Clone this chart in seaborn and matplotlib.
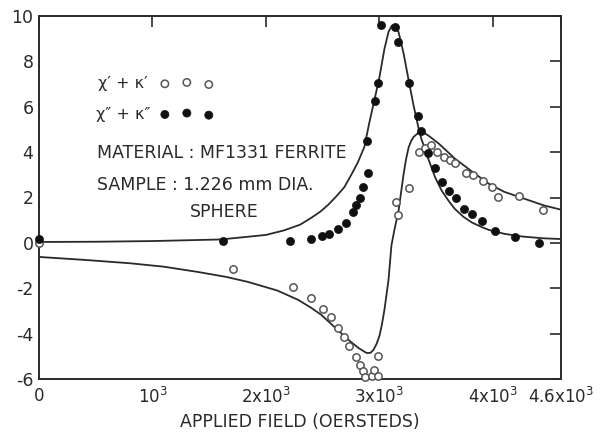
import matplotlib
matplotlib.use("Agg")
import matplotlib.pyplot as plt
from matplotlib.collections import PathCollection
import seaborn as sns
import pandas as pd

# Measured susceptibility points, MF1331 ferrite sphere
field_imag = [0, 1619, 2212, 2398, 2496, 2558, 2637, 2708, 2770, 2796, 2832, 2858,
              2894, 2903, 2965, 2991, 3018, 3133, 3168, 3257, 3336, 3363, 3425, 3487,
              3549, 3610, 3673, 3743, 3814, 3903, 4018, 4195, 4407]
chi_imag = [0.18, 0.09, 0.09, 0.18, 0.31, 0.40, 0.60, 0.88, 1.37, 1.67, 1.98, 2.47,
            4.50, 3.10, 6.26, 7.05, 9.60, 9.50, 8.85, 7.05, 5.60, 4.93, 3.96, 3.30,
            2.69, 2.29, 1.98, 1.50, 1.28, 0.97, 0.53, 0.26, 0.00]

field_real = [0, 1708, 2239, 2398, 2504, 2575, 2637, 2690, 2735, 2796, 2832, 2858,
              2876, 2938, 2956, 2991, 2991, 3142, 3168, 3257, 3345, 3398, 3451, 3505,
              3566, 3619, 3664, 3761, 3823, 3912, 3991, 4044, 4230, 4442]
chi_real = [0.00, -1.15, -1.94, -2.42, -2.90, -3.26, -3.74, -4.14, -4.54, -5.02, -5.40,
            -5.64, -5.90, -5.86, -5.60, -4.98, -5.86, 1.78, 1.23, 2.42, 4.00, 4.16, 4.30,
            4.00, 3.80, 3.66, 3.50, 3.10, 2.97, 2.73, 2.47, 2.03, 2.07, 1.45]

# Theoretical curves
curve_imag_x = [0, 500, 1000, 1600, 2000, 2159, 2300, 2398, 2480, 2549, 2620, 2690,
                2752, 2810, 2867, 2911, 2956, 3000, 3044, 3080, 3110, 3140, 3168,
                3212, 3257, 3301, 3345, 3372, 3434, 3490, 3549, 3610, 3664, 3740,
                3814, 3900, 3965, 4100, 4257, 4450, 4600]
curve_imag_y = [0.04, 0.05, 0.08, 0.15, 0.35, 0.55, 0.80, 1.10, 1.38, 1.68, 2.05, 2.45,
                3.00, 3.55, 4.23, 5.30, 6.30, 7.30, 8.55, 9.30, 9.58, 9.55, 9.30,
                8.37, 7.18, 6.05, 5.05, 4.55, 3.66, 2.90, 2.30, 1.85, 1.50, 1.15,
                0.90, 0.70, 0.57, 0.40, 0.28, 0.20, 0.17]

curve_real_x = [0, 400, 805, 1100, 1398, 1650, 1841, 2100, 2283, 2398, 2487, 2602,
                2726, 2814, 2885, 2920, 2947, 2975, 3000, 3022, 3044, 3062, 3080,
                3106, 3133, 3168, 3190, 3212, 3235, 3257, 3280, 3301, 3354, 3400,
                3434, 3522, 3664, 3814, 3965, 4100, 4257, 4450, 4611]
curve_real_y = [-0.62, -0.75, -0.90, -1.05, -1.28, -1.50, -1.72, -2.10, -2.51, -2.86,
                -3.17, -3.70, -4.27, -4.63, -4.85, -4.85, -4.72, -4.45, -4.10, -3.60,
                -2.95, -2.30, -1.63, -0.10, 0.60, 1.40, 2.20, 3.00, 3.70, 4.20, 4.50,
                4.67, 4.90, 4.83, 4.72, 4.38, 3.72, 3.15, 2.60, 2.25, 1.98, 1.65, 1.45]

y_ticks = [-6, -4, -2, 0, 2, 4, 6, 8, 10]
x_ticks = [0, 1000, 2000, 3000, 4000, 4600]
x_tick_labels = ["0", r"$\mathregular{10^3}$", r"$\mathregular{2x10^3}$",
                 r"$\mathregular{3x10^3}$", r"$\mathregular{4x10^3}$",
                 r"$\mathregular{4.6x10^3}$"]
# thin space keeps both labels the same width so they start together
legend_labels = ["χ′ + κ′\u2009", "χ″ + κ″"]

ink = "#2a2a2a"
sns.set_style("white", {"axes.edgecolor": ink, "xtick.color": ink, "ytick.color": ink,
                        "xtick.direction": "in", "ytick.direction": "in"})
plt.rcParams["font.family"] = ["DejaVu Sans"]
plt.rcParams["mathtext.default"] = "regular"

W, H = 601, 437
fig = plt.figure(figsize=(W / 100, H / 100), dpi=100)
ax = fig.add_axes([39 / W, 1 - 379 / H, 522 / W, 363 / H])

df_ci = pd.DataFrame({"x": curve_imag_x, "y": curve_imag_y})
df_cr = pd.DataFrame({"x": curve_real_x, "y": curve_real_y})
sns.lineplot(data=df_ci, x="x", y="y", ax=ax, color=ink, lw=1.3, sort=False,
             errorbar=None)
sns.lineplot(data=df_cr, x="x", y="y", ax=ax, color=ink, lw=1.3, sort=False,
             errorbar=None)

df_r = pd.DataFrame({"x": field_real, "y": chi_real})
df_i = pd.DataFrame({"x": field_imag, "y": chi_imag})
sns.scatterplot(data=df_r, x="x", y="y", ax=ax, marker="o", s=28,
                facecolor="white", edgecolor="#555555", linewidth=1.1,
                clip_on=False, zorder=3)
sns.scatterplot(data=df_i, x="x", y="y", ax=ax, marker="o", s=34,
                color="#111111", edgecolor="#111111", linewidth=0.5,
                clip_on=False, zorder=4)

ax.set_xlim(0, 4600)
ax.set_ylim(-6, 10)
ax.set_xticks(x_ticks)
ax.set_xticklabels(x_tick_labels)
ax.set_yticks(y_ticks)
ax.set_yticklabels([str(v) for v in y_ticks])
ax.tick_params(axis="both", which="both", direction="in", length=8, width=1.2,
               labelsize=12.5, colors=ink, top=True, right=True)
ax.tick_params(axis="x", pad=6, labelsize=12)
ax.tick_params(axis="y", pad=4)
for sp in ax.spines.values():
    sp.set_linewidth(1.4)
    sp.set_color(ink)
ax.set_xlabel("APPLIED FIELD (OERSTEDS)", fontsize=12.5, color=ink, labelpad=4)
ax.set_ylabel("")

points = [c for c in ax.collections if isinstance(c, PathCollection)]
leg = ax.legend(points, legend_labels,
                markerfirst=False, scatterpoints=3, frameon=False, fontsize=11.5,
                loc="upper left", bbox_to_anchor=(96 / W, 1 - 76 / H),
                bbox_transform=fig.transFigure, borderpad=0, borderaxespad=0,
                handlelength=3.35, handletextpad=0.6, labelspacing=0.98)
for t in leg.get_texts():
    t.set_color(ink)

fig.text(97 / W, 1 - 153 / H, "MATERIAL : MF1331 FERRITE", fontsize=12.5,
         color=ink, va="center", ha="left")
fig.text(97 / W, 1 - 185 / H, "SAMPLE : 1.226 mm DIA.", fontsize=12.5,
         color=ink, va="center", ha="left")
fig.text(190 / W, 1 - 212 / H, "SPHERE", fontsize=12.5,
         color=ink, va="center", ha="left")

fig.savefig("out.png", dpi=100, facecolor="white")
